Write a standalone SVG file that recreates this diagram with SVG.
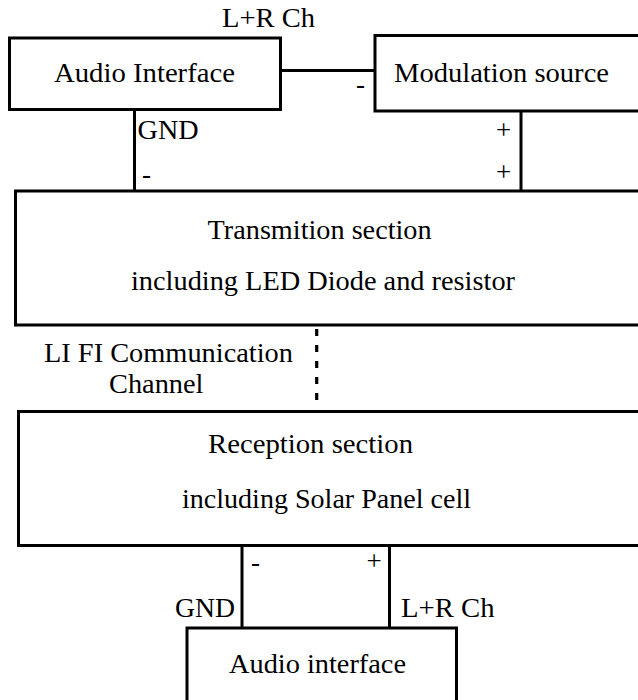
<svg xmlns="http://www.w3.org/2000/svg" width="638" height="700" viewBox="0 0 638 700">
<style>
.box{fill:#fff;stroke:#000;stroke-width:3}
.wire{stroke:#000;stroke-width:3;fill:none}
.dash{stroke:#000;stroke-width:3.2;fill:none;stroke-dasharray:7 9}
.t{font-size:27px;fill:#000}
</style>
<rect width="638" height="700" fill="#fff"/>
<g id="connectors">
<line class="wire" x1="281" y1="70.5" x2="375" y2="70.5"/>
<line class="wire" x1="134.5" y1="110" x2="134.5" y2="191"/>
<line class="wire" x1="521" y1="111" x2="521" y2="191"/>
<line class="dash" x1="316.7" y1="329" x2="316.7" y2="403"/>
<line class="wire" x1="242" y1="545" x2="242" y2="628"/>
<line class="wire" x1="389.5" y1="545" x2="389.5" y2="628"/>
<text class="t" font-family="Liberation Serif" x="222" y="27" textLength="93" lengthAdjust="spacingAndGlyphs">L+R Ch</text>
<text class="t" font-family="Liberation Serif" x="356" y="93">-</text>
<text class="t" font-family="Liberation Serif" x="137.6" y="139" textLength="61" lengthAdjust="spacingAndGlyphs">GND</text>
<text class="t" font-family="Liberation Serif" x="142" y="183">-</text>
<text class="t" font-family="Liberation Serif" x="496" y="139">+</text>
<text class="t" font-family="Liberation Serif" x="496" y="181">+</text>
<text class="t" font-family="Liberation Serif" x="44" y="362" textLength="249" lengthAdjust="spacingAndGlyphs">LI FI Communication</text>
<text class="t" font-family="Liberation Serif" x="109" y="393" textLength="94.5" lengthAdjust="spacingAndGlyphs">Channel</text>
<text class="t" font-family="Liberation Serif" x="251" y="571">-</text>
<text class="t" font-family="Liberation Serif" x="366.5" y="570">+</text>
<text class="t" font-family="Liberation Serif" x="175" y="617" textLength="60" lengthAdjust="spacingAndGlyphs">GND</text>
<text class="t" font-family="Liberation Serif" x="401" y="617" textLength="93.5" lengthAdjust="spacingAndGlyphs">L+R Ch</text>
</g>
<g id="audio-interface-tx">
<rect class="box" x="9.5" y="38" width="271" height="71.5"/>
<text class="t" font-family="Liberation Serif" x="54" y="82" textLength="181" lengthAdjust="spacingAndGlyphs">Audio Interface</text>
</g>
<g id="modulation-source">
<rect class="box" x="375" y="35.5" width="290" height="75.5"/>
<text class="t" font-family="Liberation Serif" x="394" y="82" textLength="215" lengthAdjust="spacingAndGlyphs">Modulation source</text>
</g>
<g id="transmition-section">
<rect class="box" x="15.5" y="191" width="650" height="134"/>
<text class="t" font-family="Liberation Serif" x="207.6" y="239" textLength="224" lengthAdjust="spacingAndGlyphs">Transmition section</text>
<text class="t" font-family="Liberation Serif" x="131" y="290" textLength="384" lengthAdjust="spacingAndGlyphs">including LED Diode and resistor</text>
</g>
<g id="reception-section">
<rect class="box" x="18.5" y="411.5" width="650" height="134"/>
<text class="t" font-family="Liberation Serif" x="208" y="453" textLength="205" lengthAdjust="spacingAndGlyphs">Reception section</text>
<text class="t" font-family="Liberation Serif" x="182" y="508" textLength="289" lengthAdjust="spacingAndGlyphs">including Solar Panel cell</text>
</g>
<g id="audio-interface-rx">
<rect class="box" x="187" y="628" width="269.5" height="90"/>
<text class="t" font-family="Liberation Serif" x="229" y="673" textLength="177" lengthAdjust="spacingAndGlyphs">Audio interface</text>
</g>
</svg>
